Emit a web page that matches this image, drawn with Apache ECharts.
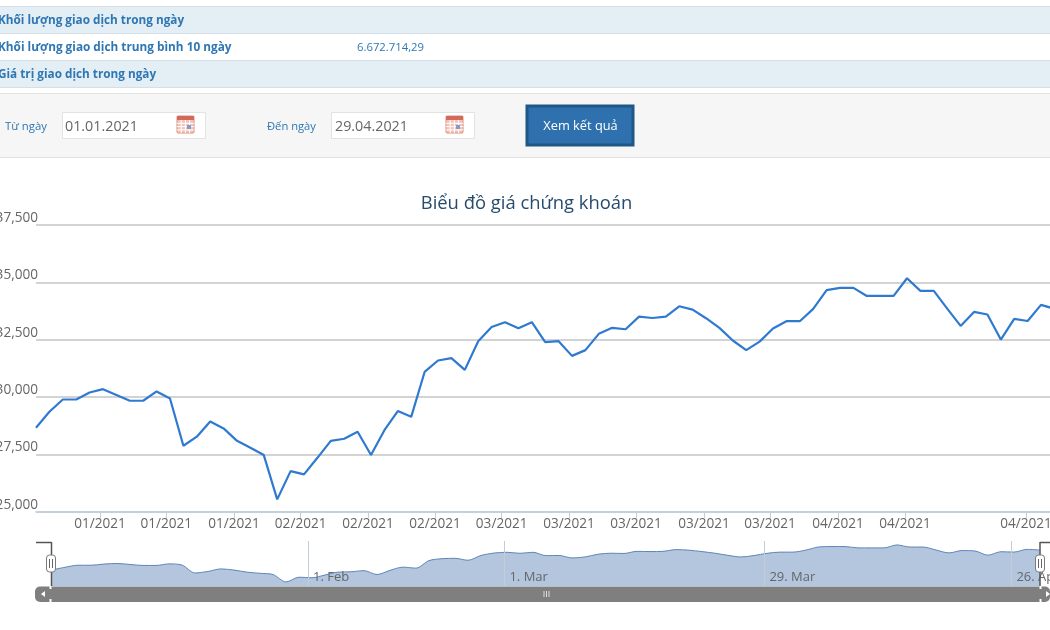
<!DOCTYPE html>
<html>
<head>
<meta charset="utf-8">
<style>html,body{margin:0;padding:0;background:#fff}#chart{width:1050px;height:630px}</style>
<script src="https://cdn.jsdelivr.net/npm/echarts@6/dist/echarts.min.js"></script>
</head>
<body>
<div id="chart"></div>
<script>
// Closing price per trading session, 01.01.2021 to 29.04.2021
const closePrices = [
  28670, 29365, 29900, 29900, 30205, 30350, 30100, 29845, 29845, 30250,
  29945, 27885, 28280, 28945, 28640, 28100, 27800, 27480, 25550, 26780,
  26640, 27360, 28100, 28190, 28495, 27480, 28565, 29395, 29145, 31100,
  31600, 31700, 31190, 32440, 33060, 33265, 33000, 33265, 32395, 32440,
  31800, 32050, 32760, 33020, 32960, 33510, 33450, 33510, 33960, 33815,
  33440, 33020, 32470, 32050, 32420, 32990, 33310, 33310, 33845, 34660,
  34760, 34760, 34410, 34410, 34410, 35180, 34630, 34630, 33860, 33105,
  33715, 33600, 32510, 33410, 33320, 34020, 33850
];
// Month ticks of the main axis, as positions on the session scale
const monthTickAt = [4.78, 9.72, 14.78, 19.75, 24.78, 29.78, 34.75, 39.78, 44.78, 49.85, 54.78, 59.85, 64.85, 73.88];
const monthTickLabels = ['01/2021','01/2021','01/2021','02/2021','02/2021','02/2021','03/2021','03/2021','03/2021','03/2021','03/2021','04/2021','04/2021','04/2021'];
// Date marks of the overview strip
const overviewTickAt = [19.7, 34.8, 54.8, 73.8];
const overviewTickLabels = ['1. Feb', '1. Mar', '29. Mar', '26. Apr'];
// Header table and form texts
const tableRows = ['Khối lượng giao dịch trong ngày', 'Khối lượng giao dịch trung bình 10 ngày', 'Giá trị giao dịch trong ngày'];
const averageVolume = '6.672.714,29';
const fromLabel = 'Từ ngày', toLabel = 'Đến ngày';
const fromDate = '01.01.2021', toDate = '29.04.2021';
const submitLabel = 'Xem kết quả';
const chartTitle = 'Biểu đồ giá chứng khoán';

const seriesData = closePrices.map((v, i) => [i, v]);
const uiFont = '"Open Sans", "Noto Sans", sans-serif';
const blue = '#2f77b4';

const rect = (x, y, width, height, fill, stroke, r, lw) => ({
  type: 'rect', silent: true, shape: { x, y, width, height, r: r || 0 },
  style: { fill: fill || 'none', stroke: stroke || 'none', lineWidth: lw === undefined ? 1 : lw }
});
const label = (x, y, text, size, fill, weight, align) => ({
  type: 'text', silent: true, x, y,
  style: { text, fill, align: align || 'left', verticalAlign: 'middle', font: (weight || 'normal') + ' ' + size + 'px ' + uiFont }
});
const line = (x1, y1, x2, y2, stroke, lw) => ({
  type: 'line', silent: true, shape: { x1, y1, x2, y2 }, style: { stroke, lineWidth: lw || 1 }
});

// Small calendar glyph used by both date inputs
function calendarIcon(x, y) {
  const parts = [rect(x, y, 17, 17, '#f5c4b8', '#d9907f', 1), rect(x, y, 17, 4, '#d2695a')];
  for (let i = 1; i < 4; i++) {
    parts.push(line(x + i * 4.2, y + 4, x + i * 4.2, y + 17, '#fff'));
    parts.push(line(x, y + 4 + i * 3.3, x + 17, y + 4 + i * 3.3, '#fff'));
  }
  parts.push(rect(x + 10, y + 9, 4, 4, '#7f9bd0'));
  return parts;
}

// Handle of the overview range selector
function rangeHandle(cx, y) {
  return [
    rect(cx - 4.5, y, 9, 17, '#fff', '#7a7a7a', 3, 1),
    line(cx - 1.5, y + 4, cx - 1.5, y + 13, '#666'),
    line(cx + 1.5, y + 4, cx + 1.5, y + 13, '#666')
  ];
}

const chrome = [
  // Stat table
  rect(-1, 6.5, 1052, 27, '#e3eef5', '#d4dfe7'),
  rect(-1, 60.5, 1052, 27, '#e3eef5', '#d4dfe7'),
  label(-2, 20.5, tableRows[0], 11.75, blue, 'bold'),
  label(-2, 47.5, tableRows[1], 11.8, blue, 'bold'),
  label(-2, 74.5, tableRows[2], 11.75, blue, 'bold'),
  label(357, 47.5, averageVolume, 11.3, blue),
  // Date filter bar
  rect(-1, 93.5, 1052, 64, '#f6f6f6', '#e2e2e2'),
  label(5, 127, fromLabel, 11.4, blue),
  label(267, 127, toLabel, 11.2, blue),
  rect(62.5, 112.5, 143, 26, '#fff', '#e3e3e3'),
  rect(331.5, 112.5, 143, 26, '#fff', '#e3e3e3'),
  label(65, 126.5, fromDate, 14.3, '#666'),
  label(335, 126.5, toDate, 14.3, '#666'),
  ...calendarIcon(177, 116),
  ...calendarIcon(446, 116),
  rect(527, 106, 106, 39, '#2f71ae', '#1f5788', 0, 3),
  label(580.5, 126, submitLabel, 12.8, '#fff', 'normal', 'center'),
  // Overview range selector and scrollbar
  rect(35, 586.5, 1015, 15.5, '#7f7f7f', null, 5),
  { type: 'polygon', silent: true, shape: { points: [[45, 591], [45, 597], [41, 594]] }, style: { fill: '#fff' } },
  line(50.5, 586, 50.5, 589, '#fff', 2),
  line(50.5, 599, 50.5, 602, '#fff', 2),
  line(1040.5, 586, 1040.5, 589, '#fff', 2),
  line(1040.5, 599, 1040.5, 602, '#fff', 2),
  { type: 'polygon', silent: true, shape: { points: [[1046, 591], [1046, 597], [1050, 594]] }, style: { fill: '#fff' } },
  line(544, 591, 544, 597, '#ddd'), line(546.5, 591, 546.5, 597, '#ddd'), line(549, 591, 549, 597, '#ddd'),
  line(36, 542.5, 51.5, 542.5, '#555', 1.5),
  line(51.5, 542, 51.5, 586, '#555', 1.5),
  line(1040, 542.5, 1050, 542.5, '#555', 1.5),
  line(1040, 542, 1040, 586, '#555', 1.5),
  ...rangeHandle(51, 555),
  ...rangeHandle(1040, 555)
].map(el => Object.assign(el, { z: 20 }));

const chart = echarts.init(document.getElementById('chart'), null, { renderer: 'canvas' });
chart.setOption({
  animation: false,
  backgroundColor: '#fff',
  title: {
    text: chartTitle, left: 521.5, top: 190, textAlign: 'center',
    textStyle: { color: '#274b6d', fontSize: 18.4, fontWeight: 'normal', fontFamily: uiFont }
  },
  grid: [
    { left: 36, right: 0, top: 225, height: 287, outerBoundsMode: 'none' },
    { left: 52, right: 10, top: 541, height: 45, outerBoundsMode: 'none' }
  ],
  xAxis: [
    {
      type: 'value', gridIndex: 0, min: 0, max: 75.67, splitLine: { show: false },
      axisLine: { onZero: false, lineStyle: { color: '#c0d0e0', width: 1.5 } },
      axisTick: { customValues: monthTickAt, length: 6, lineStyle: { color: '#c0d0e0' }, inside: false },
      axisLabel: {
        customValues: monthTickAt, color: '#666', fontSize: 13.6, fontFamily: uiFont, margin: 5,
        formatter: (v) => monthTickLabels[monthTickAt.indexOf(v)]
      }
    },
    {
      type: 'value', gridIndex: 1, min: 0, max: 76, z: 6,
      axisLine: { show: false },
      axisTick: { show: true, customValues: overviewTickAt, inside: true, length: 45, lineStyle: { color: '#c4ccd6' } },
      splitLine: { show: false },
      axisLabel: {
        customValues: overviewTickAt, inside: true, color: '#666', fontSize: 13, fontFamily: uiFont,
        align: 'left', margin: 2, padding: [0, 0, 0, 5], hideOverlap: false,
        formatter: (v) => overviewTickLabels[overviewTickAt.indexOf(v)]
      }
    }
  ],
  yAxis: [
    {
      type: 'value', gridIndex: 0, min: 25000, max: 37500, interval: 2500,
      axisLine: { show: false }, axisTick: { show: false },
      splitLine: { lineStyle: { color: '#c4c4c4', width: 1.5 } },
      axisLabel: {
        color: '#666', fontSize: 13.6, fontFamily: uiFont, margin: -2, verticalAlign: 'bottom',
        formatter: (v) => v.toLocaleString('en-US')
      }
    },
    { type: 'value', gridIndex: 1, min: 24500, max: 36200, show: false }
  ],
  series: [
    {
      type: 'line', xAxisIndex: 0, yAxisIndex: 0, data: seriesData, showSymbol: false,
      lineStyle: { color: '#2f7ad0', width: 2.2 }, z: 5
    },
    {
      type: 'line', xAxisIndex: 1, yAxisIndex: 1, data: seriesData, showSymbol: false, smooth: 0.3,
      lineStyle: { color: '#5f86b8', width: 1 }, areaStyle: { color: '#b3c6de', opacity: 1 }, z: 1
    }
  ],
  graphic: { elements: chrome }
});
</script>
</body>
</html>
